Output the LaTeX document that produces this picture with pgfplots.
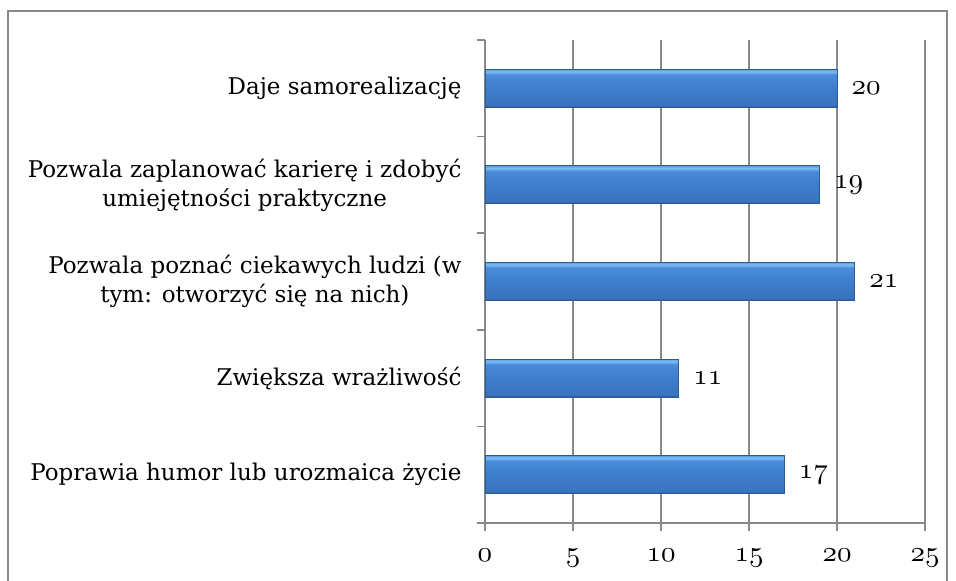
\documentclass[border=0pt]{standalone}
\usepackage{fontspec}
\setmainfont{DejaVu Serif}
\usepackage{pgfplots}
\pgfplotsset{compat=1.18}
\definecolor{gridgray}{HTML}{888888}
\definecolor{barborder}{HTML}{2C5A94}
\definecolor{bA}{HTML}{2A548C}
\definecolor{bB}{HTML}{3973BD}
\definecolor{bC}{HTML}{3E7ECC}
\definecolor{bD}{HTML}{4A8CDA}
\definecolor{bE}{HTML}{7CBFF2}
\definecolor{bF}{HTML}{5A9FE4}
\pgfdeclareverticalshading{barshade}{100bp}{color(0bp)=(bA); color(25bp)=(bA); color(28bp)=(bB); color(50bp)=(bC); color(68bp)=(bD); color(72bp)=(bE); color(75bp)=(bF); color(100bp)=(bF)}
\newcommand\lab{\fontsize{23bp}{29bp}\selectfont}
% old-style digits from the math italic font, at any size
\DeclareFontFamily{OML}{cmmx}{\skewchar\font=127}
\DeclareFontShape{OML}{cmmx}{m}{it}{<-> cmmi10}{}
\newcommand\osf[1]{{\fontsize{29bp}{30bp}\usefont{OML}{cmmx}{m}{it}#1}}
\begin{document}
\begin{tikzpicture}
\useasboundingbox (0,0) rectangle (956bp,581bp);
\draw[gridgray, line width=1.5bp] (8bp,-20bp) rectangle (947bp,570bp);
\begin{axis}[
  at={(485bp,58bp)}, anchor=south west,
  scale only axis, width=440bp, height=483bp,
  xbar, bar width=38bp,
  xmin=0, xmax=25, ymin=-0.5, ymax=4.5,
  axis x line*=bottom, axis y line*=left,
  axis line style={-, gridgray, line width=1.5bp},
  xtick={0,5,10,15,20,25},
  xticklabels={\osf{0},\osf{5},\osf{10},\osf{15},\osf{20},\osf{25}},
  xticklabel style={yshift=-14bp},
  xmajorgrids, grid style={gridgray, line width=1.5bp},
  ytick={-0.5,0.5,1.5,2.5,3.5,4.5}, yticklabels={},
  tick align=outside, major tick length=8bp,
  tick style={gridgray, line width=1.5bp},
  extra y ticks={0,1,2,3,4},
  extra y tick labels={
    Poprawia humor lub urozmaica życie,
    Zwiększa wrażliwość,
    {Pozwala poznać ciekawych ludzi (w\\tym: otworzyć się na nich)},
    {Pozwala zaplanować karierę i zdobyć\\umiejętności praktyczne},
    Daje samorealizację},
  extra y tick style={tick style={draw=none}, yticklabel style={font=\lab, align=center, xshift=-12bp}},
  nodes near coords={\osf{\pgfmathprintnumber[assume math mode=true]{\pgfplotspointmeta}}},
  nodes near coords style={black, xshift=11bp},
  mybar/.style={draw=barborder, line width=0.8bp, shading=barshade, bar shift=0pt},
]
\addplot[mybar] coordinates {(17,0)};
\addplot[mybar] coordinates {(11,1)};
\addplot[mybar] coordinates {(21,2)};
\addplot[mybar] coordinates {(19,3)};
\addplot[mybar] coordinates {(20,4)};
\end{axis}
\end{tikzpicture}
\end{document}
